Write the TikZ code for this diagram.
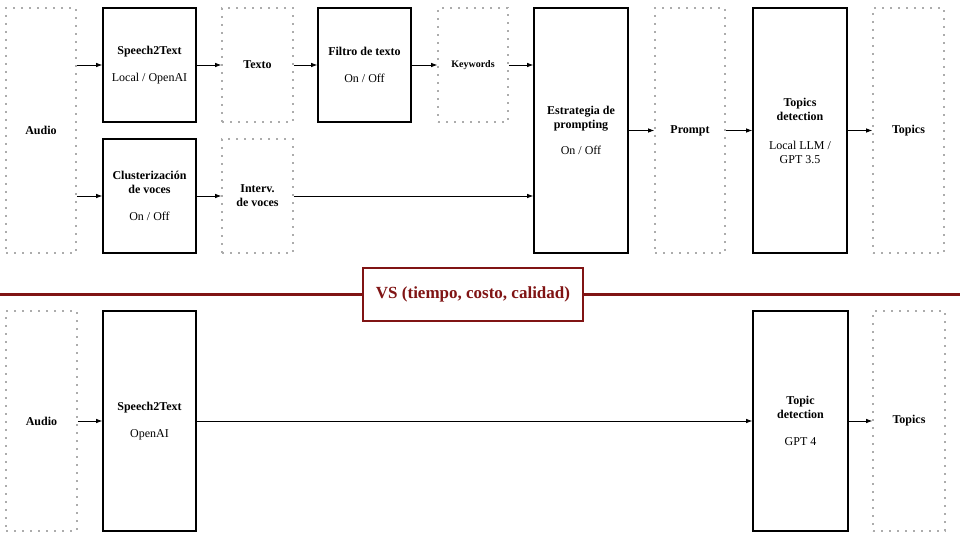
\documentclass[tikz,border=0pt]{standalone}
\usepackage{fontspec}
\setmainfont{Liberation Serif}
\usetikzlibrary{arrows.meta}
\definecolor{vsred}{RGB}{128,20,20}

\begin{document}
\begin{tikzpicture}[x=1pt,y=-1pt,
  >={Latex[length=6pt,width=4.5pt]},
  every path/.append style={line width=0.8pt},
  proc/.style={draw,line width=1.6pt,align=center,inner sep=0pt,
    font=\fontsize{12}{14}\selectfont},
  data/.style={draw=gray!65,line width=1.6pt,dash pattern=on 1.6pt off 6.4pt,
    align=center,inner sep=0pt,
    font=\bfseries\fontsize{12}{14}\selectfont},
  short/.style={minimum height=114pt},
  tall/.style={minimum height=245pt},
  low/.style={minimum height=220pt}]
  \useasboundingbox (0,0) rectangle (960,540);

  % pipeline de arriba
  \node[data,tall,minimum width=70pt] (audio1) at (41,130.5) {Audio};
  \node[proc,short,minimum width=93pt] (s2t1) at (149.5,65) {\textbf{Speech2Text}\\[13pt]Local / OpenAI};
  \node[data,short,minimum width=71pt] (texto) at (257.5,65) {Texto};
  \node[proc,short,minimum width=93pt] (filtro) at (364.5,65) {\textbf{Filtro de texto}\\[13pt]On / Off};
  \node[data,short,minimum width=70pt,font=\bfseries\fontsize{10}{12}\selectfont] (keywords) at (473,65) {Keywords};
  \node[proc,short,minimum width=93pt] (cluster) at (149.5,196) {\textbf{Clusterización}\\\textbf{de voces}\\[13pt]On / Off};
  \node[data,short,minimum width=71pt] (interv) at (257.5,196) {Interv.\\de voces};
  \node[proc,tall,minimum width=94pt] (estrategia) at (581,130.5) {\textbf{Estrategia de}\\\textbf{prompting}\\[12pt]On / Off};
  \node[data,tall,minimum width=70pt] (prompt) at (690,130.5) {Prompt};
  \node[proc,tall,minimum width=94pt] (topdet1) at (800,130.5) {\textbf{Topics}\\\textbf{detection}\\[15pt]Local LLM /\\GPT 3.5};
  \node[data,tall,minimum width=71pt] (topics1) at (908.5,130.5) {Topics};

  \draw[->] (audio1.east |- s2t1) -- (s2t1);
  \draw[->] (audio1.east |- cluster) -- (cluster);
  \foreach \a/\b in {s2t1/texto,texto/filtro,filtro/keywords,cluster/interv,
                     estrategia/prompt,prompt/topdet1,topdet1/topics1}
    \draw[->] (\a) -- (\b);
  \draw[->] (keywords) -- (keywords -| estrategia.west);
  \draw[->] (interv) -- (interv -| estrategia.west);

  % separador
  \coordinate (lineL) at (0,294);
  \coordinate (lineR) at (960,294);
  \draw[vsred,line width=3pt] (lineL) -- (lineR);
  \node[draw=vsred,line width=2.5pt,fill=white,text=vsred,minimum width=220pt,minimum height=53pt,
    font=\bfseries\fontsize{17}{20}\selectfont] (vs) at (473,294.5) {VS (tiempo, costo, calidad)};

  % pipeline de abajo
  \node[data,low,minimum width=71pt] (audio2) at (41.5,421) {Audio};
  \node[proc,low,minimum width=93pt] (s2t2) at (149.5,421) {\textbf{Speech2Text}\\[13pt]OpenAI};
  \node[proc,low,minimum width=95pt] (topdet2) at (800.5,421) {\textbf{Topic}\\\textbf{detection}\\[13pt]GPT 4};
  \node[data,low,minimum width=72pt] (topics2) at (909,421) {Topics};

  \foreach \a/\b in {audio2/s2t2,s2t2/topdet2,topdet2/topics2}
    \draw[->] (\a) -- (\b);
\end{tikzpicture}
\end{document}
